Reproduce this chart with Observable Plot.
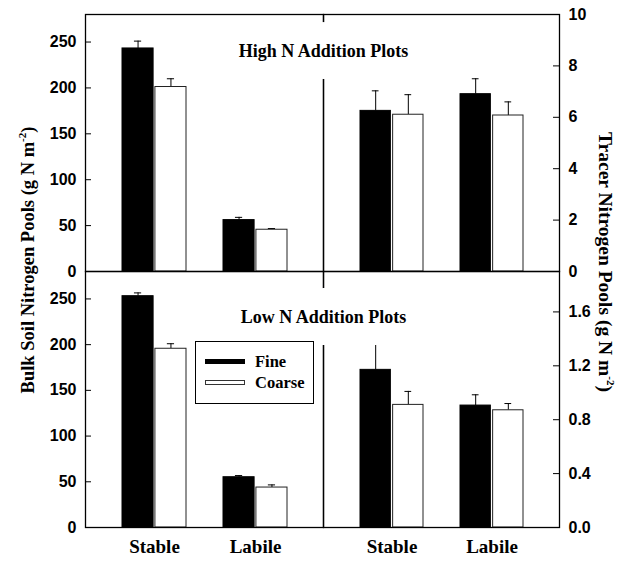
<!DOCTYPE html>
<html>
<head>
<meta charset="utf-8">
<script src="https://cdn.jsdelivr.net/npm/d3@7"></script>
<script src="https://cdn.jsdelivr.net/npm/@observablehq/plot@0.6"></script>
<style>
  body { margin: 0; background: #fff; }
  #fig { position: relative; width: 626px; height: 563px; background: #fff; overflow: hidden; }
  #fig svg { position: absolute; overflow: visible; }
  .ytitle { position: absolute; font-family: "Liberation Serif", serif; font-weight: bold; font-size: 18.5px;
            white-space: nowrap; color: #000; }
  .ytitle sup { font-size: 11px; vertical-align: 8px; line-height: 0; }
  #legend { position: absolute; left: 195px; top: 341px; width: 117px; height: 61px; border: 1px solid #000;
            background: #fff; font-family: "Liberation Serif", serif; font-weight: bold; font-size: 16.5px; }
  #legend .sw { position: absolute; left: 9px; width: 40px; height: 5px; box-sizing: border-box; }
  #legend .lab { position: absolute; left: 59px; line-height: 16px; }
</style>
</head>
<body>
<div id="fig"></div>
<script>
// ---- data ----
const categories = ["Stable", "Labile"];
const sizeClasses = ["Fine", "Coarse"];
// bar order: Stable-Fine, Stable-Coarse, Labile-Fine, Labile-Coarse
const barCategory = ["Stable", "Stable", "Labile", "Labile"];
const barSize = ["Fine", "Coarse", "Fine", "Coarse"];

const highBulk = [243, 201, 56, 45.5];
const highBulkErr = [8, 9, 3, 1.3];
const highTracer = [6.25, 6.1, 6.9, 6.07];
const highTracerErr = [0.78, 0.78, 0.6, 0.53];

const lowBulk = [253, 195.5, 55, 43.7];
const lowBulkErr = [3.6, 5.5, 1.8, 2.9];
const lowTracer = [1.17, 0.91, 0.905, 0.87];
const lowTracerErr = [0.27, 0.10, 0.08, 0.05];

const bulkTicks = [0, 50, 100, 150, 200, 250];
const highTracerTicks = [0, 2, 4, 6, 8, 10];
const lowTracerTicks = [0, 0.4, 0.8, 1.2, 1.6];
const bulkMax = 280, highTracerMax = 10, lowTracerMax = 1.9;

const panelTitles = ["High N Addition Plots", "Low N Addition Plots"];
const leftTitle = "Bulk Soil Nitrogen Pools (g N m";
const rightTitle = "Tracer Nitrogen Pools (g N m";
const unitExp = "-2";

// ---- drawing ----
const fig = document.getElementById("fig");
const SANS = "Liberation Sans, Arial, sans-serif";
const SERIF = "Liberation Serif, Times New Roman, serif";

function panel({values, errs, max, ticks, format, side, row, title, titleDy}) {
  const rows = values.map((v, i) => ({category: barCategory[i], size: barSize[i], value: v, err: errs[i]}));
  const fine = rows.filter(d => d.size === sizeClasses[0]);
  const coarse = rows.filter(d => d.size === sizeClasses[1]);
  const isLeft = side === "left";
  const isTop = row === "top";
  const width = isLeft ? 323 : 303;
  const marginLeft = isLeft ? 85 : 0, marginRight = isLeft ? 0 : 67;
  const height = isTop ? 271 : 292;
  const marginTop = isTop ? 14 : 0, marginBottom = isTop ? 0 : 36;
  const pI = 0.37, pO = 0.36;
  const areaW = width - marginLeft - marginRight;
  const bw = areaW / (categories.length - pI + 2 * pO) * (1 - pI);
  const half = bw / 2 + 1;
  const cF = bw / 4 - 0.5, cC = 3 * bw / 4 + 0.5, cap = 3.5;
  const errTop = d => d.value + d.err;
  const tickLen = 6;

  const marks = [
    Plot.ruleX(fine, {x: "category", y1: "value", y2: errTop, dx: cF - bw / 2, stroke: "#000", strokeWidth: 1}),
    Plot.ruleX(coarse, {x: "category", y1: "value", y2: errTop, dx: cC - bw / 2, stroke: "#000", strokeWidth: 1}),
    Plot.tickY(fine, {x: "category", y: errTop, insetLeft: cF - cap, insetRight: bw - cF - cap, stroke: "#000"}),
    Plot.tickY(coarse, {x: "category", y: errTop, insetLeft: cC - cap, insetRight: bw - cC - cap, stroke: "#000"}),
    Plot.barY(fine, {x: "category", y: "value", fill: "#000", stroke: "#000", strokeWidth: 1, insetRight: half}),
    Plot.barY(coarse, {x: "category", y: "value", fill: "#fff", stroke: "#222", strokeWidth: 1, insetLeft: half}),
    // inward tick marks on the value axis
    Plot.ruleY(ticks, isLeft ? {y: d => d, insetRight: areaW - tickLen, stroke: "#000"}
                             : {y: d => d, insetLeft: areaW - tickLen, stroke: "#000"}),
    Plot.frame({stroke: "#000", strokeWidth: 1.3}),
    // value-axis tick labels
    Plot.text(ticks, {y: d => d, text: format, frameAnchor: side, dx: isLeft ? -9 : 9,
      textAnchor: isLeft ? "end" : "start", fontFamily: SANS, fontWeight: "bold", fontSize: 16, fill: "#000"})
  ];
  if (!isTop) {
    marks.push(Plot.text(categories, {x: d => d, text: d => d, frameAnchor: "bottom", dy: 25,
      fontFamily: SERIF, fontWeight: "bold", fontSize: 19, fill: "#000"}));
  }
  if (title) {
    marks.push(Plot.text([title], {frameAnchor: "top-left", text: d => d, dy: titleDy, textAnchor: "middle",
      fontFamily: SERIF, fontWeight: "bold", fontSize: 18, fill: "#000",
      stroke: "#fff", strokeWidth: 44, paintOrder: "stroke"}));
  }
  const svg = Plot.plot({
    width, height, marginLeft, marginRight, marginTop, marginBottom,
    style: {background: "transparent", overflow: "visible", color: "#000"},
    x: {type: "band", domain: categories, paddingInner: pI, paddingOuter: pO, axis: null, label: null},
    y: {domain: [0, max], axis: null, label: null},
    marks
  });
  svg.style.left = (isLeft ? 0 : 323) + "px";
  svg.style.top = (isTop ? 0 : 271) + "px";
  fig.appendChild(svg);
}

const intFmt = d3.format("d");
const decFmt = d3.format(".1f");

panel({values: highBulk, errs: highBulkErr, max: bulkMax, ticks: bulkTicks, format: intFmt, side: "left", row: "top"});
panel({values: highTracer, errs: highTracerErr, max: highTracerMax, ticks: highTracerTicks, format: intFmt, side: "right", row: "top",
       title: panelTitles[0], titleDy: 29.3});
panel({values: lowBulk, errs: lowBulkErr, max: bulkMax, ticks: bulkTicks, format: intFmt, side: "left", row: "bottom"});
panel({values: lowTracer, errs: lowTracerErr, max: lowTracerMax, ticks: lowTracerTicks, format: decFmt, side: "right", row: "bottom",
       title: panelTitles[1], titleDy: 39});

// axis titles
function yTitle(text, cx, cy, angle, size) {
  const el = document.createElement("div");
  el.className = "ytitle";
  el.innerHTML = text + "<sup>" + unitExp + "</sup>)";
  el.style.left = cx + "px";
  el.style.top = cy + "px";
  el.style.fontSize = size + "px";
  el.style.transform = `translate(-50%, -50%) rotate(${angle}deg)`;
  fig.appendChild(el);
}
yTitle(leftTitle, 27.5, 260, -90, 18.5);
yTitle(rightTitle, 605, 262, 90, 19.5);

// legend
const legend = document.createElement("div");
legend.id = "legend";
const swStyles = [
  {top: 17, css: "background:#000;"},
  {top: 38, css: "background:#fff;border:1px solid #333;"}
];
sizeClasses.forEach((name, i) => {
  const sw = document.createElement("div");
  sw.className = "sw";
  sw.style.cssText += `top:${swStyles[i].top}px;` + swStyles[i].css;
  legend.appendChild(sw);
  const lab = document.createElement("div");
  lab.className = "lab";
  lab.textContent = name;
  lab.style.top = (i === 0 ? 12 : 33) + "px";
  legend.appendChild(lab);
});
fig.appendChild(legend);
</script>
</body>
</html>
